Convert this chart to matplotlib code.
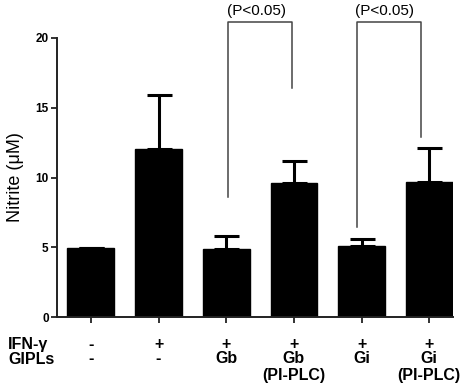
import matplotlib
matplotlib.use("Agg")
import matplotlib.pyplot as plt
import matplotlib.transforms as mtransforms
import numpy as np

plt.rcParams['font.family'] = ['Liberation Sans', 'DejaVu Sans']

ifn_labels = ['-', '+', '+', '+', '+', '+']
gipl_labels = ['-', '-', 'Gb', 'Gb\n(PI-PLC)', 'Gi', 'Gi\n(PI-PLC)']
values = [4.97, 12.04, 4.85, 9.58, 5.11, 9.68]
errors_upper = [0.0, 3.86, 0.98, 1.60, 0.48, 2.46]
yticks = [0, 5, 10, 15, 20]
# significance brackets: (x_left, x_right, left leg bottom, right leg bottom, top, label)
brackets = [
    (2.03, 2.97, 8.6, 16.4, 21.15, '(P<0.05)'),
    (3.93, 4.87, 6.47, 12.88, 21.15, '(P<0.05)'),
]

W, H = 467, 390
fig = plt.figure(figsize=(W / 100, H / 100), dpi=100)
ax = fig.add_axes([57 / W, 1 - 317 / H, (453 - 57) / W, (317 - 38) / H])

x = np.arange(len(values))
ax.bar(x, values, width=0.69, color='black', edgecolor='black', zorder=2)
ax.errorbar(x, values, yerr=[np.zeros(len(values)), errors_upper], fmt='none',
            ecolor='black', elinewidth=2.2, capsize=9, capthick=2.2, zorder=1)

ax.set_xlim(-0.5, 5.35)
ax.set_ylim(0, 20)
ax.set_yticks(yticks)
ax.set_yticklabels([str(t) for t in yticks], fontsize=8.5, fontweight='bold')
ax.set_xticks(x)
ax.set_xticklabels([])
ax.tick_params(axis='both', direction='out', length=4, width=1.3, color='#222222')
ax.tick_params(axis='y', pad=2)
for s in ['top', 'right']:
    ax.spines[s].set_visible(False)
for s in ['left', 'bottom']:
    ax.spines[s].set_linewidth(1.4)
    ax.spines[s].set_color('#222222')

ax.set_ylabel('Nitrite (μM)', fontsize=13, labelpad=8)

for xl, xr, yl, yr, top, label in brackets:
    ax.plot([xl, xl, xr, xr], [yl, top, top, yr], color='#444444', lw=1.1,
            clip_on=False, zorder=3)
    ax.text((xl + xr) / 2 - 0.06, top + 0.3, label, ha='center', va='bottom',
            fontsize=11, clip_on=False)

trans = mtransforms.blended_transform_factory(ax.transData, fig.transFigure)
fkw = dict(fontsize=11.5, fontweight='bold')
fig.text(8 / W, 1 - 345 / H, 'IFN-γ', va='center', ha='left', **fkw)
fig.text(8 / W, 1 - 360 / H, 'GIPLs', va='center', ha='left', **fkw)
for xi, lab in zip(x, ifn_labels):
    ax.text(xi, 1 - 345 / H, lab, transform=trans, ha='center', va='center', **fkw)
for xi, lab in zip(x, gipl_labels):
    ax.text(xi, 1 - 360 / H + 0.022, lab, transform=trans, ha='center',
            va='top', linespacing=1.15, **fkw)

fig.savefig('out.png', dpi=100)
